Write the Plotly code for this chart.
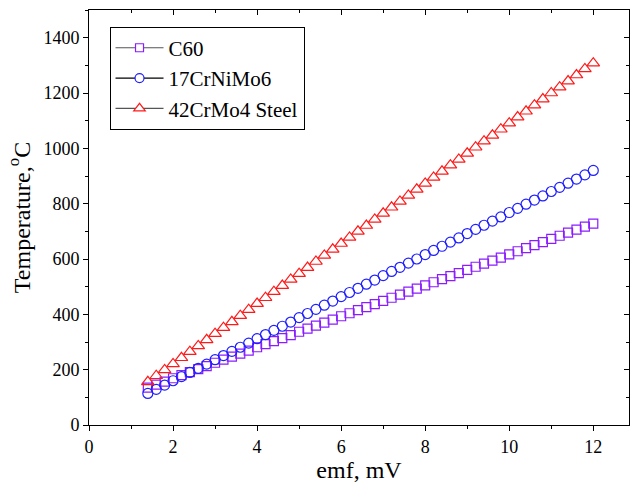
import plotly.graph_objects as go

emf = [1.4, 1.6, 1.8, 2.0, 2.2, 2.4, 2.6, 2.8, 3.0, 3.2, 3.4, 3.6, 3.8, 4.0,
       4.2, 4.4, 4.6, 4.8, 5.0, 5.2, 5.4, 5.6, 5.8, 6.0, 6.2, 6.4, 6.6, 6.8,
       7.0, 7.2, 7.4, 7.6, 7.8, 8.0, 8.2, 8.4, 8.6, 8.8, 9.0, 9.2, 9.4, 9.6,
       9.8, 10.0, 10.2, 10.4, 10.6, 10.8, 11.0, 11.2, 11.4, 11.6, 11.8, 12.0]

c60 = [135, 146, 157, 169, 180, 191, 202, 213, 225, 236, 247, 258, 269, 281,
       292, 303, 314, 325, 337, 348, 359, 370, 381, 393, 404, 415, 426, 437,
       449, 460, 471, 482, 493, 505, 516, 527, 538, 549, 561, 572, 583, 594,
       605, 617, 628, 639, 650, 661, 673, 684, 695, 706, 717, 728]

crnimo = [114, 129, 144, 160, 175, 190, 205, 220, 236, 251, 266, 281, 296, 312,
          327, 342, 357, 372, 388, 403, 418, 433, 448, 464, 479, 494, 509, 524,
          540, 555, 570, 585, 600, 616, 631, 646, 661, 676, 692, 707, 722, 737,
          752, 768, 783, 798, 813, 828, 844, 859, 874, 889, 904, 920]

crmo = [156, 178, 199, 221, 243, 265, 286, 308, 330, 352, 373, 395, 417, 439,
        460, 482, 504, 526, 547, 569, 591, 613, 635, 656, 678, 700, 721, 743,
        765, 787, 808, 830, 852, 873, 895, 917, 939, 960, 982, 1004, 1026, 1047,
        1069, 1091, 1113, 1134, 1156, 1178, 1200, 1221, 1243, 1265, 1287, 1308]

names = ["C60", "17CrNiMo6", "42CrMo4 Steel"]
series = [c60, crnimo, crmo]
colors = ["#8a1cff", "#1f1fff", "#ff1a1a"]
line_colors = ["#555555", "#000000", "#555555"]
symbols = ["square", "circle", "triangle-up"]
sizes = [9, 10, 11]

FONT = "Liberation Serif, Times New Roman, serif"
fig = go.Figure()

for name, ys, col, sym, sz in zip(names, series, colors, symbols, sizes):
    fig.add_trace(go.Scatter(
        x=emf, y=ys, mode="markers", showlegend=False,
        marker=dict(symbol=sym + "-open", size=sz, color=col, line=dict(width=1.2, color=col)),
    ))

for name, col, lc, sym, sz in zip(names, colors, line_colors, symbols, sizes):
    fig.add_trace(go.Scatter(
        x=[None], y=[None], mode="lines+markers", name=name,
        xaxis="x2", yaxis="y2",
        line=dict(color=lc, width=1.2),
        marker=dict(symbol=sym, size=sz - 1, color="white", line=dict(width=1.2, color=col)),
    ))

axis_common = dict(showline=True, linecolor="black", linewidth=1, showgrid=False,
                   zeroline=False, ticklen=5, tickwidth=1, tickcolor="black",
                   tickfont=dict(family=FONT, size=18, color="black"))

fig.update_layout(
    width=630, height=484,
    font=dict(family=FONT, color="black"),
    margin=dict(l=89, r=1, t=10, b=59),
    paper_bgcolor="white", plot_bgcolor="white",
    xaxis=dict(range=[0, 12.85], tickvals=[0, 2, 4, 6, 8, 10, 12], ticks="outside",
               minor=dict(dtick=1, ticks="outside", ticklen=3, tickcolor="black"),
               title=dict(text="emf, mV", font=dict(family=FONT, size=24, color="black"), standoff=3),
               **axis_common),
    yaxis=dict(range=[0, 1500], tickvals=[0, 200, 400, 600, 800, 1000, 1200, 1400], ticks="outside",
               minor=dict(dtick=100, ticks="outside", ticklen=3, tickcolor="black"),
               title=dict(text="Temperature,<sup>o</sup>C", font=dict(family=FONT, size=24, color="black"), standoff=6),
               **axis_common),
    xaxis2=dict(overlaying="x", side="top", range=[0, 12.85], tickvals=[0, 2, 4, 6, 8, 10, 12],
                ticks="inside", showticklabels=False, showline=True, linecolor="black",
                showgrid=False, zeroline=False, ticklen=5, tickcolor="black",
                minor=dict(dtick=1, ticks="inside", ticklen=3, tickcolor="black")),
    yaxis2=dict(overlaying="y", side="right", range=[0, 1500],
                tickvals=[0, 200, 400, 600, 800, 1000, 1200, 1400],
                ticks="inside", showticklabels=False, showline=True, linecolor="black",
                showgrid=False, zeroline=False, ticklen=5, tickcolor="black",
                minor=dict(dtick=100, ticks="inside", ticklen=3, tickcolor="black")),
    legend=dict(x=0.038, y=0.96, xanchor="left", yanchor="top",
                bgcolor="white", bordercolor="black", borderwidth=1,
                font=dict(family=FONT, size=21, color="black"),
                tracegroupgap=0, itemwidth=48),
)

fig.write_html("out.html")
